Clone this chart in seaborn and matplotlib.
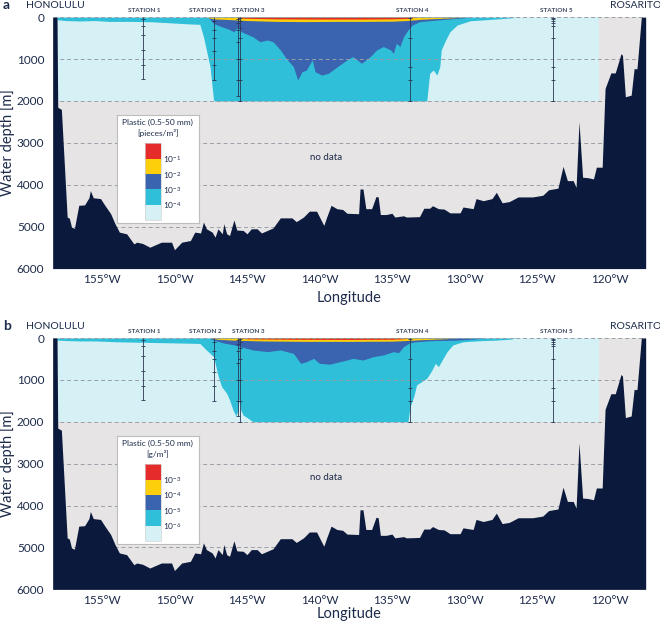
import pandas as pd
import seaborn as sns
import matplotlib.pyplot as plt
from matplotlib.colors import ListedColormap, BoundaryNorm
from matplotlib.cm import ScalarMappable

# 海底地形 (経度, 深度 m)
bathy_lon = [-158.4, -158.1, -158.05, -157.8, -157.4, -157.25, -157.1, -156.9, -156.6, -156.2,
             -155.9, -155.8, -155.6, -155.1, -154.8, -154.4, -154.1, -153.8, -153.3, -152.8,
             -152.6, -152.2, -151.7, -151.3, -150.9, -150.2, -150.0, -149.5, -148.9, -148.6,
             -148.2, -148.0, -147.8, -147.4, -147.2, -147.0, -146.7, -146.6, -146.4, -146.2,
             -145.9, -145.7, -145.26, -145.0, -144.7, -144.3, -144.0, -143.6, -143.2, -142.7,
             -141.9, -141.6, -141.1, -140.7, -140.2, -139.7, -139.5, -139.2, -138.8, -138.4,
             -138.1, -137.3, -137.2, -137.0, -136.8, -136.4, -136.1, -135.95, -135.8, -135.4,
             -135.0, -134.8, -134.2, -134.0, -133.1, -132.8, -132.4, -132.2, -131.8, -131.4,
             -131.0, -130.3, -130.1, -129.4, -129.2, -128.7, -128.1, -127.8, -127.4, -126.9,
             -126.3, -125.3, -124.6, -124.2, -123.55, -123.2, -122.9, -122.5, -122.3, -122.1,
             -121.85, -121.5, -121.1, -120.9, -120.5, -120.3, -119.9, -119.6, -119.2, -119.1,
             -118.9, -118.5, -118.3, -118.1, -117.8, -117.5]
bathy_depth = [0, 0, 2150, 2200, 4770, 4800, 5010, 5040, 4490, 4480,
               4310, 4140, 4310, 4330, 4490, 4690, 4930, 5130, 5170, 5410,
               5370, 5400, 5490, 5430, 5370, 5370, 5550, 5370, 5330, 5130,
               5150, 4890, 5050, 5130, 5250, 5050, 5170, 4930, 5170, 5210,
               4840, 5080, 5090, 5170, 5050, 5050, 5150, 5090, 5030, 4790,
               4790, 4880, 4770, 4630, 4630, 4970, 4770, 4490, 4570, 4590,
               4680, 4690, 4100, 4100, 4570, 4570, 4280, 4290, 4710, 4710,
               4680, 4770, 4740, 4770, 4760, 4560, 4560, 4500, 4570, 4580,
               4670, 4670, 4530, 4570, 4330, 4380, 4330, 4180, 4430, 4400,
               4290, 4290, 4250, 4120, 4080, 3560, 3900, 3900, 4060, 2500,
               3820, 3830, 3860, 3580, 3580, 1700, 1330, 1330, 870, 910,
               1900, 1860, 1230, 1230, 0, 0]

# 観測範囲 (0-2000 m)
domain_lon = [-158.1, -120.7]
domain_depth = [2000, 2000]

# パネル a: 個数濃度の各クラスの下端深度
a_cyan_lon = [-158.1, -157.5, -156.5, -155.5, -154.5, -153.0, -151.5, -150.0, -149.0, -148.25,
              -148.0, -147.8, -147.55, -147.3, -147.2, -132.6, -132.4, -132.15, -131.9, -131.7,
              -131.6, -131.3, -131.0, -130.5, -129.6, -127.8, -126.9, -126.4]
a_cyan_depth = [60, 80, 90, 80, 100, 100, 110, 140, 160, 170,
                465, 780, 1180, 1980, 2000, 2000, 1340, 1260, 1380, 1180,
                780, 545, 345, 186, 85, 43, 20, 0]
a_blue_lon = [-147.7, -147.55, -147.3, -146.8, -146.3, -145.9, -145.6, -145.4, -144.6, -144.1,
              -143.6, -143.2, -142.7, -142.3, -141.8, -141.5, -141.2, -140.9, -140.5, -140.3,
              -139.85, -139.4, -138.6, -138.1, -137.7, -137.1, -136.5, -136.05, -135.6, -135.1,
              -134.9, -134.7, -134.45, -134.2, -133.9, -133.6, -133.1, -131.9, -130.5, -129.6]
a_blue_depth = [0, 50, 150, 220, 280, 345, 225, 345, 465, 585,
                545, 585, 780, 980, 1180, 1500, 1300, 1260, 1020, 1300,
                1380, 1340, 1140, 1020, 940, 1100, 940, 780, 700, 780,
                860, 620, 700, 465, 305, 186, 107, 67, 27, 0]
a_yellow_lon = [-147.8, -147.3, -146.0, -145.0, -143.0, -141.0, -139.0, -137.0, -135.0, -134.0,
                -133.0, -131.5, -130.0]
a_yellow_depth = [0, 40, 60, 80, 100, 105, 100, 100, 95, 80, 50, 25, 0]
a_red_lon = [-145.6, -145.2, -143.0, -140.0, -137.0, -135.0, -134.0, -133.3]
a_red_depth = [0, 25, 40, 45, 45, 40, 30, 0]

# パネル b: 質量濃度の各クラスの下端深度
b_cyan_lon = [-158.1, -157.5, -156.5, -155.5, -154.0, -152.5, -151.0, -149.5, -148.25, -147.8,
              -147.3, -146.98, -146.75, -146.4, -146.2, -145.96, -145.76, -145.62, -145.53, -145.43,
              -145.26, -144.9, -144.57, -133.9, -133.75, -133.5, -133.3, -132.95, -132.6, -132.3,
              -132.0, -131.8, -131.6, -131.2, -130.8, -130.1, -128.95, -127.8, -126.9, -126.4]
b_cyan_depth = [50, 60, 70, 70, 90, 100, 110, 120, 130, 285,
                445, 920, 1160, 1320, 1480, 1720, 1860, 1720, 1440, 1720,
                1840, 1920, 2000, 2000, 1640, 1400, 1120, 1040, 960, 800,
                605, 685, 565, 325, 165, 90, 65, 50, 30, 0]
b_blue_lon = [-147.6, -147.3, -146.6, -145.9, -144.6, -143.6, -142.7, -141.8, -141.3, -140.9,
              -140.4, -140.0, -139.3, -138.6, -138.1, -137.7, -137.0, -136.3, -135.6, -134.9,
              -134.55, -134.2, -133.75, -133.3, -132.4, -130.5, -129.6, -128.5]
b_blue_depth = [0, 50, 120, 165, 285, 325, 285, 365, 605, 565,
                485, 605, 625, 565, 525, 485, 525, 445, 405, 325,
                350, 205, 110, 90, 65, 50, 30, 0]
b_yellow_lon = [-147.6, -147.0, -146.0, -144.0, -141.0, -138.0, -135.0, -134.0, -133.0, -131.5, -130.5]
b_yellow_depth = [0, 30, 50, 70, 80, 80, 75, 60, 40, 20, 0]
b_red_lon = [-145.5, -145.0, -142.0, -138.0, -135.0, -134.3, -133.8]
b_red_depth = [0, 20, 30, 35, 30, 20, 0]

# 観測点
station_names = ['STATION 1', 'STATION 2', 'STATION 3', 'STATION 4', 'STATION 5']
station_label_lon = [-152.1, -147.9, -144.9, -133.6, -123.65]
cast_lon = [-152.2, -147.3, -145.65, -145.45, -133.75, -123.9]
cast_bottom = [1480, 1500, 1870, 2000, 2000, 2000]
cast_samples = [[50, 200, 430, 780, 1140, 1480],
                [100, 300, 500, 800, 1150, 1500],
                [50, 150, 300, 600, 1000, 1500, 1870],
                [30, 100, 250, 500, 1000, 1500, 2000],
                [30, 500, 1200, 1500, 2000],
                [20, 50, 100, 150, 200, 500, 1200, 1500, 2000]]

x_ticks = [-155, -150, -145, -140, -135, -130, -125, -120]
x_tick_labels = ['155°W', '150°W', '145°W', '140°W', '135°W', '130°W', '125°W', '120°W']
y_ticks = [0, 1000, 2000, 3000, 4000, 5000, 6000]

a_class_labels = ['$\\mathregular{10^{-4}}$', '$\\mathregular{10^{-3}}$',
                  '$\\mathregular{10^{-2}}$', '$\\mathregular{10^{-1}}$']
b_class_labels = ['$\\mathregular{10^{-6}}$', '$\\mathregular{10^{-5}}$',
                  '$\\mathregular{10^{-4}}$', '$\\mathregular{10^{-3}}$']

navy = '#0b1a3c'
text_c = '#1d2b4a'
grey = '#e6e4e4'
light = '#d5f1f6'
cyan = '#2fbfd8'
blue = '#3a63b0'
yellow = '#fccf0a'
red = '#e62b2b'

sns.set_theme(style="white")
plt.rcParams['font.family'] = ['Lato', 'DejaVu Sans']
plt.rcParams['mathtext.fontset'] = 'custom'
plt.rcParams['mathtext.rm'] = 'Lato'

samples_df = pd.DataFrame([(lon, d) for lon, ds in zip(cast_lon, cast_samples) for d in ds],
                          columns=['lon', 'depth'])

fig = plt.figure(figsize=(6.6, 6.21), dpi=100)


def draw_panel(ax, layers, class_labels, unit, letter, letter_y, xlabel_y):
    ax.set_facecolor(grey)
    ax.fill_between(domain_lon, 0, domain_depth, color=light, lw=0, zorder=1)
    for (lon, dep), col in zip(layers, [cyan, blue, yellow, red]):
        ax.fill_between(lon, 0, dep, color=col, lw=0, zorder=2)
    ax.fill_between(bathy_lon, bathy_depth, 6000, color=navy, lw=0, zorder=3)

    # 観測点の鉛直線とサンプル深度
    ax.vlines(cast_lon, 0, cast_bottom, color='#2a3652', lw=0.6, zorder=4)
    sns.scatterplot(data=samples_df, x='lon', y='depth', marker='_', s=5,
                    color='#2a3652', linewidth=0.6, ax=ax, zorder=4, legend=False)

    ax.set_xlim(-158.4, -117.5)
    ax.set_ylim(6000, 0)
    ax.set_xticks(x_ticks)
    ax.set_xticklabels(x_tick_labels)
    ax.set_yticks(y_ticks)
    ax.set_axisbelow(False)
    ax.grid(axis='y', ls=(0, (4, 3)), color='#999ea8', lw=0.7)
    ax.grid(axis='x', visible=False)
    ax.tick_params(length=0, labelsize=8.5, colors=text_c)
    ax.tick_params(axis='y', pad=6)
    ax.tick_params(axis='x', pad=4)
    for s in ax.spines.values():
        s.set_visible(False)
    ax.set_xlabel('Longitude', fontsize=10.5, color=text_c)
    ax.set_ylabel('Water depth [m]', fontsize=10.5, color=text_c)
    ax.xaxis.set_label_coords(0.5, xlabel_y)
    ax.yaxis.set_label_coords(-0.064, 0.5)

    for name, lon in zip(station_names, station_label_lon):
        ax.text(lon, -160, name, ha='center', va='center', fontsize=4.6,
                fontweight='bold', color='#3a4660', clip_on=False)
    ax.text(-158.2, -270, 'HONOLULU', ha='center', va='center', fontsize=7.5,
            color=text_c, clip_on=False)
    ax.text(-118.2, -270, 'ROSARITO', ha='center', va='center', fontsize=7.5,
            color=text_c, clip_on=False)
    ax.text(-139.55, 3340, 'no data', ha='center', va='center', fontsize=7,
            color=text_c, zorder=4)
    fig.text(0.004, letter_y, letter, ha='left', va='center', fontsize=10,
             fontweight='bold', color=text_c)

    # 凡例ボックス
    box = ax.inset_axes([0.109, 0.18, 0.137, 0.431])
    box.set_zorder(5)
    box.set_facecolor('white')
    box.set_xticks([])
    box.set_yticks([])
    box.grid(False)
    for s in box.spines.values():
        s.set_color('#bdbdbd')
        s.set_linewidth(0.8)
    box.text(0.5, 0.93, 'Plastic (0.5-50 mm)', ha='center', va='center',
             fontsize=6, color=text_c)
    box.text(0.5, 0.83, unit, ha='center', va='center', fontsize=6, color=text_c)

    cax = ax.inset_axes([0.156, 0.193, 0.026, 0.305])
    cax.set_zorder(6)
    sm = ScalarMappable(norm=BoundaryNorm([0, 1, 2, 3, 4, 5], 5),
                        cmap=ListedColormap([light, cyan, blue, yellow, red]))
    cbar = fig.colorbar(sm, cax=cax, ticks=[1, 2, 3, 4])
    cbar.minorticks_off()
    cbar.ax.set_yticklabels(class_labels)
    cbar.ax.tick_params(which='both', length=0, pad=1.5, labelsize=6, colors=text_c)
    cbar.ax.set_xticks([])
    cbar.ax.grid(False)
    cbar.outline.set_edgecolor('#d0d0d0')
    cbar.outline.set_linewidth(0.5)


ax_a = fig.add_axes([0.0798, 0.5675, 0.8985, 0.4048])
draw_panel(ax_a,
           [(a_cyan_lon, a_cyan_depth), (a_blue_lon, a_blue_depth),
            (a_yellow_lon, a_yellow_depth), (a_red_lon, a_red_depth)],
           a_class_labels, '[pieces/m³]', 'a', 1 - 5 / 621, -0.09)

ax_b = fig.add_axes([0.0798, 0.0509, 0.8985, 0.4048])
draw_panel(ax_b,
           [(b_cyan_lon, b_cyan_depth), (b_blue_lon, b_blue_depth),
            (b_yellow_lon, b_yellow_depth), (b_red_lon, b_red_depth)],
           b_class_labels, '[g/m³]', 'b', 1 - 326 / 621, -0.072)

fig.savefig('out.png', dpi=100)
